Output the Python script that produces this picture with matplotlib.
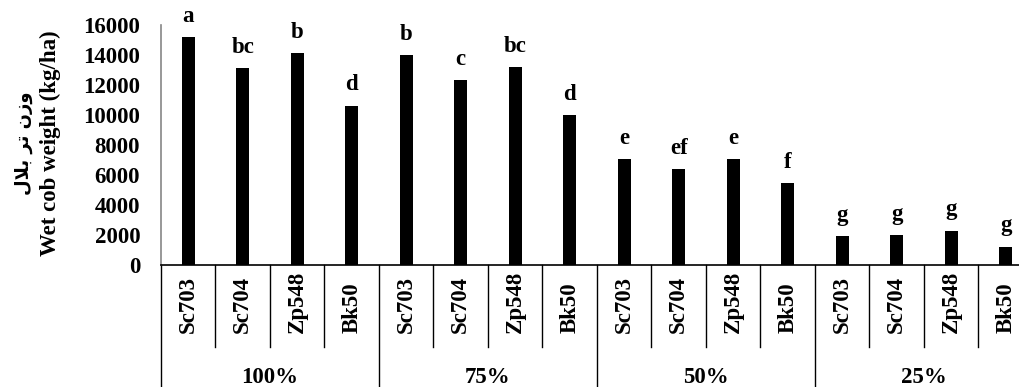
import matplotlib
matplotlib.use("Agg")
import matplotlib.pyplot as plt
from matplotlib.transforms import blended_transform_factory, offset_copy

# ---- data -----------------------------------------------------------------
levels = ["100%", "75%", "50%", "25%"]
cultivars = ["Sc703", "Sc704", "Zp548", "Bk50"]
wet_cob_weight = [15180, 13110, 14110, 10620,
                  14000, 12310, 13180, 9980,
                  7070, 6400, 7040, 5440,
                  1930, 2000, 2290, 1220]
letters = ["a", "bc", "b", "d",
           "b", "c", "bc", "d",
           "e", "ef", "e", "f",
           "g", "g", "g", "g"]
yticks = [0, 2000, 4000, 6000, 8000, 10000, 12000, 14000, 16000]
ylabel_en = "Wet cob weight (kg/ha)"
ylabel_fa = "وزن تر بلال"

# ---- minimal Persian shaping (contextual forms, visual order) -------------
FORMS = {
    'ا': ('\uFE8D', '\uFE8E', None, None),
    'ب': ('\uFE8F', '\uFE90', '\uFE91', '\uFE92'),
    'ت': ('\uFE95', '\uFE96', '\uFE97', '\uFE98'),
    'ر': ('\uFEAD', '\uFEAE', None, None),
    'ز': ('\uFEAF', '\uFEB0', None, None),
    'ل': ('\uFEDD', '\uFEDE', '\uFEDF', '\uFEE0'),
    'ن': ('\uFEE5', '\uFEE6', '\uFEE7', '\uFEE8'),
    'و': ('\uFEED', '\uFEEE', None, None),
}
LAM_ALEF = ('\uFEFB', '\uFEFC')


def shape_word(word):
    units, i = [], 0
    while i < len(word):
        if word[i] == 'ل' and i + 1 < len(word) and word[i + 1] == 'ا':
            units.append('لا')
            i += 2
        else:
            units.append(word[i])
            i += 1

    def joins_next(u):
        return u != 'لا' and FORMS[u][2] is not None

    out = []
    for k, u in enumerate(units):
        prev = k > 0 and joins_next(units[k - 1])
        if u == 'لا':
            out.append(LAM_ALEF[1] if prev else LAM_ALEF[0])
            continue
        iso, fin, ini, med = FORMS[u]
        nxt = ini is not None and k + 1 < len(units)
        if prev and nxt:
            out.append(med)
        elif prev:
            out.append(fin)
        elif nxt:
            out.append(ini)
        else:
            out.append(iso)
    return ''.join(reversed(out))


def shape_rtl(text):
    return ' '.join(shape_word(w) for w in reversed(text.split(' ')))


# ---- figure ---------------------------------------------------------------
plt.rcParams['font.family'] = ['Liberation Serif', 'DejaVu Serif']
FS = 16.5
W, H, DPI = 1020, 387, 100
fig = plt.figure(figsize=(W / DPI, H / DPI), dpi=DPI)

x0_px, x1_px, ytop_px, ybase_px = 161, 1033, 25, 265
ax = fig.add_axes([x0_px / W, (H - ybase_px) / H,
                   (x1_px - x0_px) / W, (ybase_px - ytop_px) / H])

n = len(wet_cob_weight)
xpos = [i + 0.5 for i in range(n)]
ax.bar(xpos, wet_cob_weight, width=0.245, color='black', zorder=3)

for x, v, lab in zip(xpos, wet_cob_weight, letters):
    ax.annotate(lab, (x, v), xytext=(0, 11), textcoords='offset points',
                ha='center', va='baseline', fontsize=FS, fontweight='bold',
                annotation_clip=False)

ax.set_xlim(0, n)
ax.set_ylim(0, 16000)
ax.set_yticks(yticks)
ax.set_yticklabels([str(t) for t in yticks], fontsize=FS, fontweight='bold')
ax.tick_params(axis='y', length=0, pad=15)
ax.set_xticks([])

for s in ['top', 'right']:
    ax.spines[s].set_visible(False)
ax.spines['left'].set_color('#868686')
ax.spines['left'].set_linewidth(1.2)
ax.spines['bottom'].set_color('black')
ax.spines['bottom'].set_linewidth(1.2)

# multi-level category axis
px = 72 / DPI  # points per pixel
trans_x = blended_transform_factory(ax.transData, ax.transAxes)
ngroup = len(cultivars)
for i in range(n + 1):
    is_group = i % ngroup == 0
    bottom = -140 / (ybase_px - ytop_px) if is_group else -82 / (ybase_px - ytop_px)
    ax.plot([i, i], [0, bottom], transform=trans_x, color='black',
            lw=1.0, clip_on=False)

lab_tr = offset_copy(trans_x, fig=fig, x=0, y=-68 * px, units='points')
for i, x in enumerate(xpos):
    ax.text(x, 0, cultivars[i % ngroup], transform=lab_tr, rotation=90,
            ha='center', va='bottom', fontsize=FS, fontweight='bold')

grp_tr = offset_copy(trans_x, fig=fig, x=0, y=-118 * px, units='points')
for g, lev in enumerate(levels):
    ax.text(g * ngroup + ngroup / 2, 0, lev, transform=grp_tr,
            ha='center', va='baseline', fontsize=FS, fontweight='bold')

# axis title: English and Persian lines
fig.text(50 / W, (H - 143) / H, ylabel_en, rotation=90, ha='center',
         va='center', fontsize=FS, fontweight='bold')
fig.text(24 / W, (H - 143) / H, shape_rtl(ylabel_fa), rotation=90,
         ha='center', va='center', fontsize=13, fontweight='bold',
         family=['DejaVu Sans'])

fig.savefig('out.png', dpi=DPI)
